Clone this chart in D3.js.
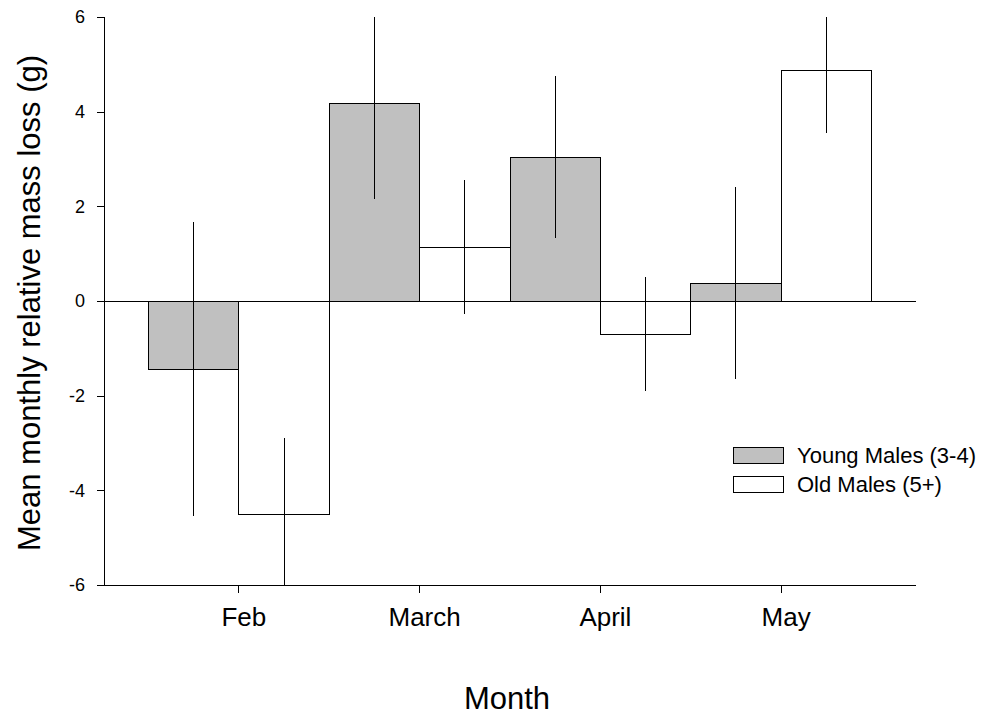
<!DOCTYPE html>
<meta charset="utf-8">
<head>
  <title>Mean monthly relative mass loss</title>
  <script type="text/javascript" src="https://d3js.org/d3.v7.min.js"></script>
  <style>
    body { margin: 0; background: #fff; }
    svg text { font-family: "Liberation Sans", Arial, sans-serif; fill: #000; }
    .axis path, .axis line { stroke: #000; stroke-width: 1px; shape-rendering: crispEdges; }
    .bar { stroke: #000; stroke-width: 1px; shape-rendering: crispEdges; }
    .err { stroke: #000; stroke-width: 1px; shape-rendering: crispEdges; }
  </style>
</head>

<body>
  <svg width="987" height="719"></svg>
  <script>
    // data
    var months = ["Feb", "March", "April", "May"];
    var groups = ["Young Males (3-4)", "Old Males (5+)"];
    var youngMean = [-1.44, 4.18, 3.04, 0.38];
    var youngErr  = [3.11, 2.03, 1.71, 2.02];
    var oldMean   = [-4.50, 1.14, -0.70, 4.86];
    var oldErr    = [1.61, 1.41, 1.21, 1.31];
    var yTicks = [-6, -4, -2, 0, 2, 4, 6];
    var fills = ["#c0c0c0", "#ffffff"];

    var svg = d3.select("svg");
    var plotL = 104, plotR = 916, plotT = 17, plotB = 585;

    var rows = [];
    months.forEach(function(m, i) {
      rows.push({ month: m, group: groups[0], mean: youngMean[i], err: youngErr[i] });
      rows.push({ month: m, group: groups[1], mean: oldMean[i], err: oldErr[i] });
    });

    var x = d3.scaleBand()
      .domain(months)
      .range([plotL, plotR])
      .paddingInner(0)
      .paddingOuter(0.246);

    var xs = d3.scaleBand()
      .domain(groups)
      .range([0, x.bandwidth()]);

    var y = d3.scaleLinear()
      .domain([-6, 6])
      .range([plotB, plotT]);

    var clampY = function(v) { return y(Math.max(-6, Math.min(6, v))); };

    // bars
    svg.append("g")
      .selectAll("rect")
      .data(rows)
      .enter().append("rect")
        .attr("class", "bar")
        .attr("x", function(d) { return x(d.month) + xs(d.group); })
        .attr("width", xs.bandwidth())
        .attr("y", function(d) { return Math.min(y(d.mean), y(0)); })
        .attr("height", function(d) { return Math.abs(y(d.mean) - y(0)); })
        .attr("fill", function(d) { return fills[groups.indexOf(d.group)]; });

    // error bars (no caps, cut at the axis limits)
    svg.append("g")
      .selectAll("line")
      .data(rows)
      .enter().append("line")
        .attr("class", "err")
        .attr("x1", function(d) { return x(d.month) + xs(d.group) + xs.bandwidth() / 2; })
        .attr("x2", function(d) { return x(d.month) + xs(d.group) + xs.bandwidth() / 2; })
        .attr("y1", function(d) { return clampY(d.mean + d.err); })
        .attr("y2", function(d) { return clampY(d.mean - d.err); });

    // zero line
    svg.append("line")
      .attr("class", "err")
      .attr("x1", plotL).attr("x2", plotR)
      .attr("y1", y(0)).attr("y2", y(0));

    // axes
    var yAxis = svg.append("g")
      .attr("class", "axis")
      .attr("transform", "translate(" + plotL + ",0)")
      .call(d3.axisLeft(y).tickValues(yTicks).tickSize(7).tickPadding(12)
        .tickFormat(function(d) { return String(d); }));
    yAxis.selectAll("text").style("font-size", "18px");
    yAxis.select(".domain").attr("d", "M0," + plotT + "V" + plotB);

    var xAxis = svg.append("g")
      .attr("class", "axis")
      .attr("transform", "translate(0," + plotB + ")")
      .call(d3.axisBottom(x).tickSize(8).tickPadding(15));
    xAxis.selectAll("text").style("font-size", "26px").attr("dx", 5);
    xAxis.select(".domain").attr("d", "M" + plotL + ",0H" + plotR);

    // axis titles
    svg.append("text")
      .attr("transform", "translate(40," + ((plotT + plotB) / 2 + 2) + ") rotate(-90)")
      .attr("text-anchor", "middle")
      .style("font-size", "31px")
      .text("Mean monthly relative mass loss (g)");

    svg.append("text")
      .attr("x", 507)
      .attr("y", 709)
      .attr("text-anchor", "middle")
      .style("font-size", "31px")
      .text("Month");

    // legend
    var legend = svg.append("g")
      .selectAll("g")
      .data(groups)
      .enter().append("g")
        .attr("transform", function(d, i) { return "translate(733," + (447 + i * 29) + ")"; });

    legend.append("rect")
      .attr("class", "bar")
      .attr("width", 50)
      .attr("height", 16)
      .attr("fill", function(d, i) { return fills[i]; });

    legend.append("text")
      .attr("x", 64)
      .attr("y", 16)
      .style("font-size", "22px")
      .text(function(d) { return d; });
  </script>
</body>
